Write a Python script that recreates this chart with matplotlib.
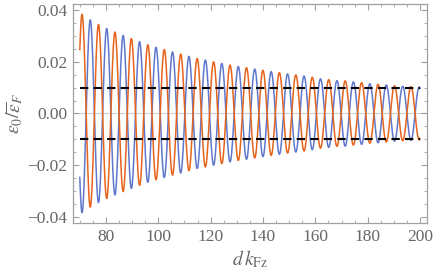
import matplotlib
matplotlib.use("Agg")
import matplotlib.pyplot as plt
from matplotlib.ticker import MultipleLocator
import numpy as np

# envelope of the oscillation
ext_x = [70.87, 73.6, 76.8, 79.9, 83.1, 86.25, 89.3, 92.5, 95.6, 98.8, 102.0,
         105.0, 108.1, 111.2, 114.5, 117.7, 120.9, 124.0, 127.2, 130.3, 133.6,
         136.6, 139.8, 142.9, 146.1, 149.3, 152.5, 155.5, 158.7, 161.9, 165.1,
         168.2, 171.4, 174.6, 177.7, 180.8, 184.0, 187.1, 190.3, 193.5, 196.7, 200.0]
ext_amp = [0.0383, 0.0364, 0.0346, 0.0330, 0.0316, 0.0303, 0.0291, 0.0279, 0.0267,
           0.0257, 0.0248, 0.0239, 0.0231, 0.0222, 0.0213, 0.0207, 0.0200, 0.0194,
           0.0187, 0.0182, 0.0177, 0.0172, 0.0167, 0.0162, 0.0158, 0.0153, 0.0149,
           0.0145, 0.0140, 0.0134, 0.0131, 0.0127, 0.0126, 0.0122, 0.0119, 0.0115,
           0.0113, 0.0110, 0.0107, 0.0105, 0.0104, 0.0102]
first_peak = 70.87     # first maximum of the orange curve
x_start, x_end = 70, 200
level = 0.01           # dashed reference levels at +/- level

plt.rcParams['mathtext.fontset'] = 'stix'
plt.rcParams['font.family'] = 'Liberation Serif'

x = np.linspace(x_start, x_end, 4000)
env = np.interp(x, ext_x, ext_amp)
orange = env * np.cos(x - first_peak)
blue = -orange

fig = plt.figure(figsize=(4.36, 2.73), dpi=100)
ax = fig.add_axes([0.1674, 0.1832, 0.8116, 0.8021])

ax.plot(x, blue, color='#6078CC', lw=1.1)
ax.plot(x, orange, color='#E6641C', lw=1.1)
for s in (1, -1):
    ax.plot([x_start, x_end], [s * level, s * level], color='black', lw=1.5,
            dashes=(4, 2.5))

ax.set_xlim(67.4, 202.6)
ax.set_ylim(-0.0423, 0.0423)
ax.axhline(0, color='#CCCCCC', lw=0.8, zorder=0)

ax.xaxis.set_minor_locator(MultipleLocator(5))
ax.yaxis.set_minor_locator(MultipleLocator(0.005))
ax.set_xticks([80, 100, 120, 140, 160, 180, 200])
ax.set_yticks([-0.04, -0.02, 0.0, 0.02, 0.04])
ax.set_yticklabels(['\u22120.04', '\u22120.02', '0.00', '0.02', '0.04'])

gray = '#A0A0A0'
for sp in ax.spines.values():
    sp.set_color(gray)
    sp.set_linewidth(0.9)
ax.tick_params(which='both', direction='in', top=True, right=True,
               color=gray, labelcolor='#666666', labelsize=12.5, pad=4)
ax.tick_params(which='major', length=4, width=0.8)
ax.tick_params(which='minor', length=2.2, width=0.6)

ax.set_xlabel(r'$d\,k_{\mathrm{Fz}}$', fontsize=14, color='#666666', labelpad=3)
ax.set_ylabel(r'$\epsilon_0/\overline{\epsilon}_F$', fontsize=14, color='#666666',
              labelpad=2)

fig.savefig('out.png', dpi=100)
